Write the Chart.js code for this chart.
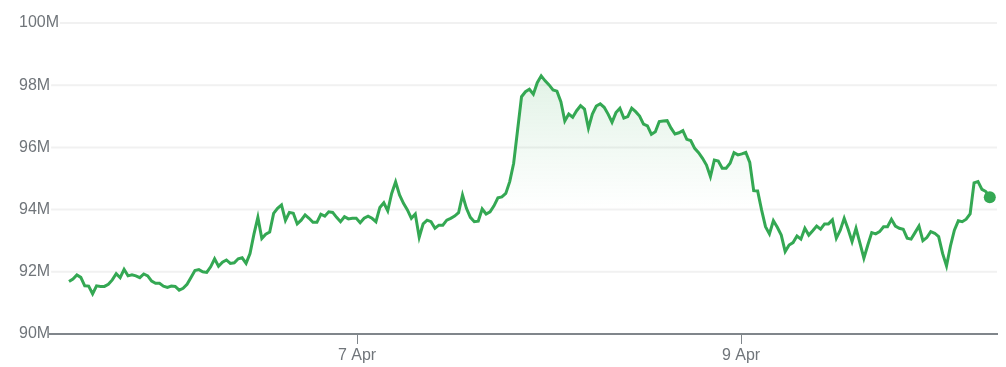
<!DOCTYPE html>
<html>
<head>
<meta charset="utf-8">
<script src="https://cdn.jsdelivr.net/npm/chart.js@4"></script>
<style>
  html, body { margin: 0; padding: 0; background: #fff; }
  #wrap { width: 1006px; height: 367px; position: relative; }
</style>
</head>
<body>
<div id="wrap"><canvas id="chart"></canvas></div>
<script>
'use strict';
        // Значения (млн), шаг ~30 минут, с 5 апр 12:00 до 10 апр ~07:00
        const values = [
            91.69, 91.77, 91.90, 91.82, 91.55, 91.54, 91.29, 91.55, 91.53, 91.53,
            91.60, 91.74, 91.94, 91.81, 92.08, 91.87, 91.90, 91.87, 91.81, 91.93,
            91.87, 91.70, 91.63, 91.63, 91.54, 91.50, 91.54, 91.53, 91.41, 91.47,
            91.60, 91.82, 92.04, 92.07, 92.00, 91.98, 92.16, 92.42, 92.18, 92.31,
            92.38, 92.27, 92.29, 92.42, 92.45, 92.27, 92.59, 93.21, 93.75, 93.07,
            93.21, 93.28, 93.88, 94.04, 94.15, 93.65, 93.91, 93.88, 93.54, 93.66,
            93.83, 93.72, 93.59, 93.59, 93.85, 93.79, 93.93, 93.91, 93.75, 93.61,
            93.77, 93.70, 93.72, 93.72, 93.58, 93.72, 93.79, 93.72,
            93.61, 94.07, 94.22, 93.96, 94.52, 94.89, 94.47, 94.20, 93.99, 93.72,
            93.86, 93.11, 93.54, 93.66, 93.61, 93.40, 93.50, 93.50, 93.66, 93.72,
            93.79, 93.90, 94.47, 94.04, 93.75, 93.61, 93.63, 94.02, 93.86, 93.93,
            94.12, 94.38, 94.41, 94.52, 94.90,
            95.49, 96.56, 97.63, 97.79, 97.87, 97.71, 98.08, 98.30, 98.14, 98.01,
            97.85, 97.81, 97.47, 96.85, 97.07, 96.97, 97.18, 97.34, 97.23, 96.62,
            97.07, 97.33, 97.40, 97.29, 97.07, 96.81, 97.12, 97.26, 96.94, 96.99,
            97.26, 97.15, 97.01, 96.75,
            96.69, 96.42, 96.50, 96.83, 96.85, 96.86, 96.62, 96.43, 96.47, 96.54,
            96.26, 96.22, 95.97, 95.83, 95.65, 95.43, 95.06, 95.59, 95.56, 95.33,
            95.33, 95.49, 95.83, 95.76, 95.79, 95.84, 95.52, 94.61, 94.60, 93.99,
            93.45, 93.22, 93.64, 93.43, 93.18, 92.65, 92.86, 92.94, 93.15, 93.05,
            93.40, 93.18, 93.32,
            93.47, 93.37, 93.54, 93.54, 93.67, 93.08, 93.34, 93.72, 93.37, 92.97,
            93.40, 92.92, 92.44, 92.86, 93.26, 93.22, 93.29, 93.45, 93.45, 93.69,
            93.47, 93.40, 93.37, 93.08, 93.05, 93.26, 93.47, 93.00, 93.10, 93.29,
            93.24, 93.13, 92.59, 92.19, 92.83, 93.34, 93.64, 93.61, 93.69, 93.86,
            94.86, 94.90, 94.65, 94.58, 94.40
        ];

        // Время в часах от 5 апр 00:00
        const startHour = 12;
        const endHour = 127.1;
        const tickHours = [48, 96];
        const tickLabels = ['7 Apr', '9 Apr'];
        const yTicks = [90, 92, 94, 96, 98, 100];

        const green = '#34a853';
        const labelFont = '16px "Liberation Sans", Arial, sans-serif';
        const step = (endHour - startHour) / (values.length - 1);
        const points = values.map((v, i) => ({ x: startHour + i * step, y: v }));

        // Подписи оси Y слева и сетка, начинающаяся сразу после текста
        const yLabelsPlugin = {
            id: 'yLabels',
            beforeDatasetsDraw(chart) {
                const c = chart.ctx;
                const y = chart.scales.y;
                const area = chart.chartArea;
                c.save();
                c.font = labelFont;
                c.textBaseline = 'middle';
                c.textAlign = 'left';
                yTicks.forEach(v => {
                    const py = y.getPixelForValue(v);
                    const text = v + 'M';
                    const w = c.measureText(text).width;
                    c.fillStyle = '#70757a';
                    c.fillText(text, 19, py);
                    if (v !== yTicks[0]) {
                        c.strokeStyle = '#f1f1f1';
                        c.lineWidth = 2;
                        c.beginPath();
                        c.moveTo(19 + w + 1, py);
                        c.lineTo(area.right, py);
                        c.stroke();
                    }
                });
                c.restore();
            }
        };

        const ctx = document.getElementById('chart').getContext('2d');
        new Chart(ctx, {
            type: 'line',
            data: {
                datasets: [{
                    data: points,
                    borderColor: green,
                    borderWidth: 3,
                    tension: 0,
                    fill: 'start',
                    backgroundColor: (c) => {
                        const area = c.chart.chartArea;
                        if (!area) return 'rgba(52,168,83,0.1)';
                        const yBottom = c.chart.scales.y.getPixelForValue(94);
                        const g = c.chart.ctx.createLinearGradient(0, area.top, 0, yBottom);
                        g.addColorStop(0, 'rgba(52,168,83,0.2)');
                        g.addColorStop(1, 'rgba(52,168,83,0)');
                        return g;
                    },
                    pointRadius: values.map((_, i) => i === values.length - 1 ? 6 : 0),
                    pointBackgroundColor: green,
                    pointBorderWidth: 0
                }]
            },
            plugins: [yLabelsPlugin],
            options: {
                responsive: true,
                maintainAspectRatio: false,
                animation: false,
                layout: { padding: { left: 19, right: 9, top: 23, bottom: 0 } },
                plugins: { legend: { display: false }, tooltip: { enabled: false } },
                scales: {
                    x: {
                        type: 'linear',
                        min: 9.625,
                        max: 128,
                        afterBuildTicks: (s) => { s.ticks = tickHours.map(v => ({ value: v })); },
                        afterFit: (s) => { s.height = 33; },
                        ticks: {
                            autoSkip: false,
                            maxRotation: 0,
                            padding: 2,
                            color: '#70757a',
                            font: { family: '"Liberation Sans", Arial, sans-serif', size: 16 },
                            callback: (v) => tickLabels[tickHours.indexOf(v)]
                        },
                        grid: {
                            drawOnChartArea: false,
                            drawTicks: true,
                            tickLength: 10,
                            color: '#80868b',
                            lineWidth: 1
                        },
                        border: { display: true, color: '#80868b', width: 2 }
                    },
                    y: {
                        min: 90,
                        max: 100,
                        afterBuildTicks: (s) => { s.ticks = yTicks.map(v => ({ value: v })); },
                        afterFit: (s) => { s.width = 31; },
                        ticks: { display: false },
                        grid: { display: false },
                        border: { display: false }
                    }
                }
            }
        });
</script>
</body>
</html>
